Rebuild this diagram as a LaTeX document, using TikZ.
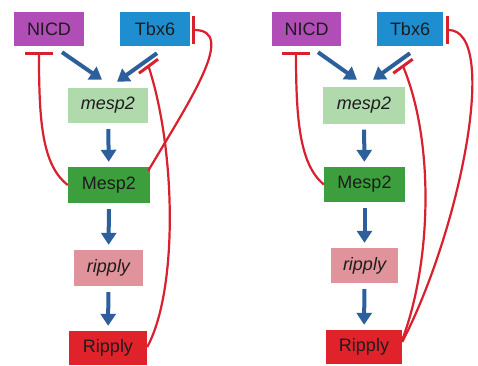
\documentclass[tikz,border=0pt]{standalone}
\usepackage{fontspec}
\setmainfont{Liberation Sans}
\usetikzlibrary{arrows.meta,calc}
\definecolor{cNICD}{HTML}{B04DB6}
\definecolor{cTbx}{HTML}{1E8ED0}
\definecolor{cmesp}{HTML}{B0DAAC}
\definecolor{cMesp}{HTML}{3C9E3C}
\definecolor{crip}{HTML}{E0939B}
\definecolor{cRip}{HTML}{E0222B}
\definecolor{cblue}{HTML}{2C5F9C}
\definecolor{cred}{HTML}{D8202E}
\definecolor{ctext}{HTML}{1C1C1C}
\tikzset{
  gene/.style={draw=none, inner sep=0pt, text=ctext,
    font=\fontsize{18}{20}\selectfont},
  act/.style={cblue, line width=4pt, -{Triangle[length=12pt,width=15pt]},
    shorten <=6pt, shorten >=5pt},
  inh/.style={cred, line width=2.2pt, -{Bar[width=28pt,line width=3pt]}},
  inhline/.style={cred, line width=2.2pt},
}
\begin{document}
\begin{tikzpicture}[x=1pt,y=-1pt]
\useasboundingbox[fill=white] (0,0) rectangle (478,365);
% left panel
\node[gene, fill=cNICD, minimum width=70pt, minimum height=34pt] (nicdL) at (49,29) {NICD};
\node[gene, fill=cTbx, minimum width=70pt, minimum height=34pt] (tbxL) at (155,29) {Tbx6};
\node[gene, fill=cmesp, minimum width=80pt, minimum height=35pt] (mespL) at (108,105.5) {\itshape mesp2};
\node[gene, fill=cMesp, minimum width=82pt, minimum height=36pt] (MespL) at (109,185) {Mesp2};
\node[gene, fill=crip, minimum width=69pt, minimum height=36pt] (ripL) at (108.5,268) {\itshape ripply};
\node[gene, fill=cRip, minimum width=78pt, minimum height=34pt] (RipL) at (108,348) {Ripply};
% right panel
\node[gene, fill=cNICD, minimum width=69pt, minimum height=34pt] (nicdR) at (306.5,29) {NICD};
\node[gene, fill=cTbx, minimum width=66pt, minimum height=34pt] (tbxR) at (410,29) {Tbx6};
\node[gene, fill=cmesp, minimum width=82pt, minimum height=37pt] (mespR) at (364,105) {\itshape mesp2};
\node[gene, fill=cMesp, minimum width=81pt, minimum height=35pt] (MespR) at (364.5,184.5) {Mesp2};
\node[gene, fill=crip, minimum width=67pt, minimum height=35pt] (ripR) at (364.5,265.5) {\itshape ripply};
\node[gene, fill=cRip, minimum width=76pt, minimum height=34pt] (RipR) at (364,347) {Ripply};

% activation arrows left
\draw[act, shorten <=0pt, shorten >=0pt] ($(nicdL.south)+(13,6)$) -- ($(mespL.north)+(-6,-8)$);
\draw[act, shorten <=0pt, shorten >=0pt] ($(tbxL.south)+(2,7)$) -- ($(mespL.north)+(9,-6)$);
\draw[act] (mespL) -- (MespL);
\draw[act] (MespL) -- (ripL);
\draw[act] (ripL) -- (RipL);
% activation arrows right
\draw[act, shorten <=0pt, shorten >=0pt] ($(nicdR.south)+(11.5,6)$) -- ($(mespR.north)+(-7,-6.5)$);
\draw[act, shorten <=0pt, shorten >=0pt] ($(tbxR.south)+(0,7)$) -- ($(mespR.north)+(9,-6.5)$);
\draw[act] (mespR) -- (MespR);
\draw[act] (MespR) -- (ripR);
\draw[act] (ripR) -- (RipR);

% inhibition left
\draw[inh] (MespL.west) .. controls +(-26,-20) and +(0,68) .. ($(nicdL.south)+(-10,6)$);
\draw[inh] ($(MespL.north east)+(-2,4)$) .. controls +(42,-71) and +(45,0) .. ($(tbxL.east)+(2,1)$);
\coordinate (barL) at ($(tbxL.south)+(-6.5,20)$);
\draw[inhline] ($(RipL.east)+(0,-1)$) .. controls +(31,-57) and +(27.5,84) .. (barL);
\draw[inhline, line width=3pt] ($(barL)+(-9.5,7)$) -- ($(barL)+(9.5,-7)$);

% inhibition right
\draw[inh] (MespR.west) .. controls +(-24,-20) and +(0,68) .. ($(nicdR.south)+(-10.5,6)$);
\draw[inh] ($(RipR.east)+(0,-5)$) .. controls +(58,-112) and +(54,0) .. ($(tbxR.east)+(3,1)$);
\coordinate (barR) at ($(tbxR.south)+(-7,20)$);
\draw[inhline] ($(RipR.east)+(0,-7)$) .. controls +(30,-80) and +(31,74) .. (barR);
\draw[inhline, line width=3pt] ($(barR)+(-9.7,7)$) -- ($(barR)+(9.7,-7)$);
\end{tikzpicture}
\end{document}
